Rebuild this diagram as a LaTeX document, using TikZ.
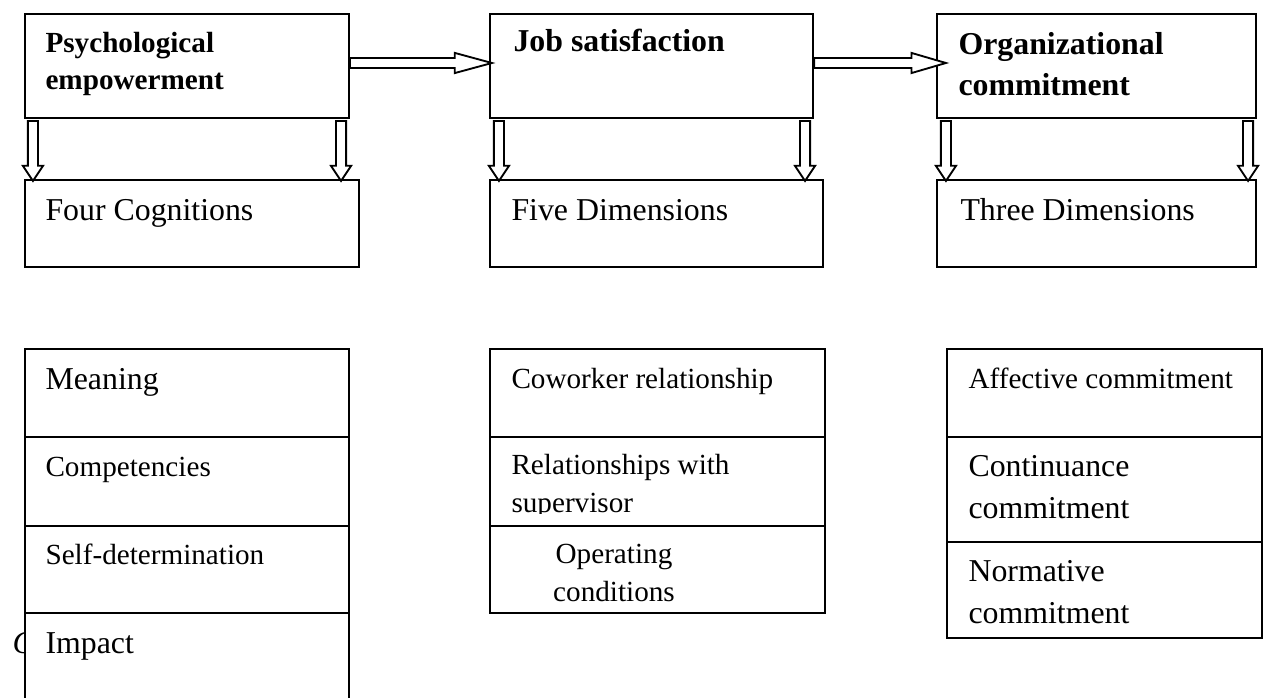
\documentclass[tikz,border=0pt]{standalone}
\usepackage{fontspec}
\setmainfont{Liberation Serif}
\usetikzlibrary{calc,fit}

\newcommand{\fatarrow}[3]{%
  \path #1 coordinate (s) #2 coordinate (e);
  \coordinate (h) at ($(e)!#3!(s)$);
  \draw[fat] ($(s)!1.9pt!90:(e)$) -- ($(h)!1.9pt!90:(e)$) -- ($(h)!3.8pt!90:(e)$) -- (e)
    -- ($(h)!3.8pt!-90:(e)$) -- ($(h)!1.9pt!-90:(e)$) -- ($(s)!1.9pt!-90:(e)$) -- cycle;}

\begin{document}
\begin{tikzpicture}[x=0.377pt,y=-0.377pt]
        \tikzstyle{box}=[draw,line width=0.8pt,fill=white,inner sep=0pt]
        \tikzstyle{fat}=[draw=black,line width=0.7pt,fill=white,line join=miter]
        \tikzstyle{head}=[anchor=base west,inner sep=0pt,font=\bfseries\fontsize{12}{15.8}\selectfont,align=left]
        \tikzstyle{big}=[anchor=base west,inner sep=0pt,font=\fontsize{12}{15.5}\selectfont,align=left]
        \tikzstyle{small}=[anchor=base west,inner sep=0pt,font=\fontsize{11}{14}\selectfont,align=left]
       \useasboundingbox (0,0) rectangle (1272,698);
       \clip (0,0) rectangle (1272,698);

       % concepts (multi-line texts sit on their last baseline)
       \node [box,fit={(25,14) (349,118)}] (pe) {};
       \node [box,fit={(490,14) (813,118)}] (js) {};
       \node [box,fit={(937,14) (1256,118)}] (oc) {};
       \node [head,font=\bfseries\fontsize{11}{14.3}\selectfont] (pet) at (45,90) {Psychological\\empowerment};
       \node [head] (jst) at (513,52) {Job satisfaction};
       \node [head] (oct) at (958,96) {Organizational\\commitment};

       % dimensions
       \node [box,fit={(25,180) (359,267)}] (fc) {};
       \node [box,fit={(490,180) (823,267)}] (fd) {};
       \node [box,fit={(937,180) (1256,267)}] (td) {};
       \node [big] (fct) at (45,221) {Four Cognitions};
       \node [big] (fdt) at (511,221) {Five Dimensions};
       \node [big] (tdt) at (960,221) {Three Dimensions};

       \fatarrow{($(pe.east)+(0,-3)$)}{($(js.west)+(3,-3)$)}{14pt}
       \fatarrow{($(js.east)+(0,-3)$)}{($(oc.west)+(10,-3)$)}{13pt}
       \fatarrow{($(pe.south west)+(9,2)$)}{($(fc.north west)+(9,2)$)}{5.7pt}
       \fatarrow{($(pe.south east)+(-9,2)$)}{($(fc.north east)+(-19,2)$)}{5.7pt}
       \fatarrow{($(js.south west)+(10,2)$)}{($(fd.north west)+(10,2)$)}{5.7pt}
       \fatarrow{($(js.south east)+(-9,2)$)}{($(fd.north east)+(-19,2)$)}{5.7pt}
       \fatarrow{($(oc.south west)+(10,2)$)}{($(td.north west)+(10,2)$)}{5.7pt}
       \fatarrow{($(oc.south east)+(-9,2)$)}{($(td.north east)+(-9,2)$)}{5.7pt}

       \node [big,font=\itshape\fontsize{12}{14}\selectfont] (stray) at (12,653) {C};

       % four cognitions
       \node [box,fit={(25,349) (349,437)}] (mean) {};
       \node [box,fit={(25,437) (349,526)}] (comp) {};
       \node [box,fit={(25,526) (349,613)}] (self) {};
       \node [box,fit={(25,613) (349,720)}] (imp) {};
       \node [big] (meant) at (45,389) {Meaning};
       \node [small] (compt) at (45,476) {Competencies};
       \node [small] (selft) at (45,564) {Self-determination};
       \node [big] (impt) at (45,653) {Impact};

       % five dimensions
       \node [box,fit={(490,349) (825,437)}] (cowk) {};
       \node [box,fit={(490,437) (825,526)}] (rsup) {};
       \node [box,fit={(490,526) (825,613)}] (oper) {};
       \node [small] (cowkt) at (511,388) {Coworker relationship};
       \begin{scope}
         \clip (490,437) rectangle (825,513);
         \node [small,font=\fontsize{11}{14}\selectfont] (rsupt) at (511,512) {Relationships with\\supervisor};
       \end{scope}
       \node [small,anchor=base,align=center,font=\fontsize{11}{14.3}\selectfont] (opert) at (614,601) {Operating\\conditions};

       % three dimensions
       \node [box,fit={(947,349) (1262,437)}] (affc) {};
       \node [box,fit={(947,437) (1262,542)}] (cont) {};
       \node [box,fit={(947,542) (1262,638)}] (norm) {};
       \node [small] (affct) at (968,388) {Affective commitment};
       \node [big] (contt) at (968,518) {Continuance\\commitment};
       \node [big] (normt) at (968,623) {Normative\\commitment};

      \end{tikzpicture}
\end{document}
